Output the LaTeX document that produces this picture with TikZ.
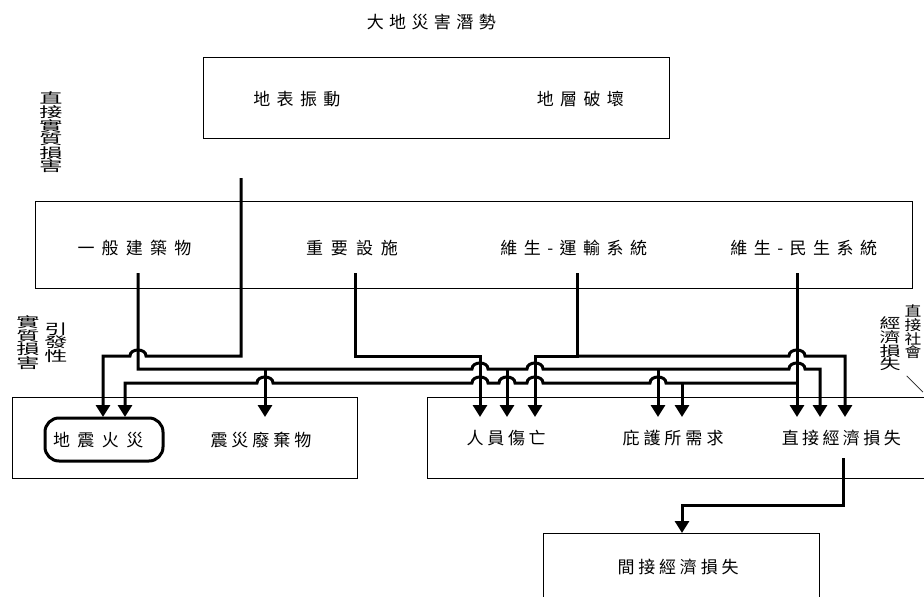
\documentclass[tikz,border=0pt]{standalone}
\usepackage{fontspec}
\newfontfamily\cjk{Noto Sans CJK TC}
\usetikzlibrary{arrows.meta}
\ExplSyntaxOn
\NewDocumentCommand\spaced{O{6pt}m}{\tl_map_inline:nn{#2}{##1\hspace{#1}}\hspace{-#1}}
\ExplSyntaxOff
\tikzset{
  lbl/.style={inner sep=0pt, font=\cjk\fontsize{17}{20}\selectfont},
  vlab/.style={inner sep=0pt, align=center, font=\cjk\fontsize{14}{13.6}\selectfont},
  box/.style={draw, line width=0.8pt, inner sep=0pt},
  bus/.style={line width=3pt},
  arr/.style={bus, -{Triangle[width=14pt,length=12pt]}},
  hr/.style args={#1/#2}{insert path={-- (#1-8,#2) .. controls (#1-8,#2-8) and (#1+8,#2-8) .. (#1+8,#2)}},
  hl/.style args={#1/#2}{insert path={-- (#1+8,#2) .. controls (#1+8,#2-8) and (#1-8,#2-8) .. (#1-8,#2)}},
}
\begin{document}
\begin{tikzpicture}[x=1pt,y=-1pt]
\useasboundingbox (0,0) rectangle (924,597);
\clip (0,0) rectangle (924,597);
% boxes
\node[box, minimum width=466, minimum height=81] (topbox) at (436,97.5) {};
\node[box, minimum width=877, minimum height=87] (midbox) at (473.5,244.5) {};
\node[box, minimum width=345, minimum height=81] (leftbox) at (184.5,437.5) {};
\node[box, minimum width=518, minimum height=81] (rightbox) at (686,437.5) {};
\node[box, minimum width=276, minimum height=80] (indbox) at (681,573) {};
\node[draw, line width=3pt, rounded corners=14pt, minimum width=118, minimum height=43, inner sep=0pt] (fire) at (104,439.5) {};
% texts
\node[lbl] (title) at (434,22.5) {\spaced[5.4pt]{大地災害潛勢}};
\node[lbl] (surf) at (300,99) {\spaced[6.3pt]{地表振動}};
\node[lbl] (fault) at (583.5,99) {\spaced[6.3pt]{地層破壞}};
\node[lbl] (bld) at (138,248) {\spaced[7.2pt]{一般建築物}};
\node[lbl] (fac) at (356,248) {\spaced[8pt]{重要設施}};
\node[lbl] (trans) at (577,248) {\spaced[6.5pt]{維生-運輸系統}};
\node[lbl] (util) at (807,248) {\spaced[6.5pt]{維生-民生系統}};
\node[lbl] (firetxt) at (102,440) {\spaced[7.5pt]{地震火災}};
\node[lbl] (debris) at (263,440) {\spaced[4pt]{震災廢棄物}};
\node[lbl] (cas) at (508,438) {\spaced[3.7pt]{人員傷亡}};
\node[lbl] (shel) at (675,438) {\spaced[4pt]{庇護所需求}};
\node[lbl] (dloss) at (843,438) {\spaced[3.4pt]{直接經濟損失}};
\node[lbl] (iloss) at (680,567) {\spaced[3.8pt]{間接經濟損失}};
% vertical labels
\node[vlab, xscale=1.65] (v1) at (51,132.5) {直\\接\\實\\質\\損\\害};
\node[vlab, xscale=1.65] (v2) at (28,342.5) {實\\質\\損\\害};
\node[vlab, xscale=1.65] (v3) at (56,342.5) {引\\發\\性};
\node[vlab, xscale=1.5] (v4) at (890,344) {經\\濟\\損\\失};
\node[vlab, xscale=1.2] (v5) at (913,332) {直\\接\\社\\會};
\node[inner sep=0pt, rotate=-90, font=\cjk\fontsize{18}{18}\selectfont] (slash) at (915,384) {／};
% connector endpoints
\coordinate (s0) at (241,178);
\coordinate (s1) at (138,273);
\coordinate (s2) at (355,273);
\coordinate (s3) at (577,273);
\coordinate (s4) at (797,273);
\coordinate (s5) at (843,458);
\coordinate (t1) at (103,417);
\coordinate (t2) at (125,417);
\coordinate (t3) at (265,417);
\coordinate (t4) at (480,417);
\coordinate (t5) at (507,417);
\coordinate (t6) at (535,417);
\coordinate (t7) at (658,417);
\coordinate (t8) at (682,417);
\coordinate (t9) at (797,417);
\coordinate (t10) at (820,417);
\coordinate (t11) at (845,417);
\coordinate (t12) at (682,533);
% connectors
\draw[arr] (s0) -- (241,356) [hl=138/356] -- (103,356) -- (t1);
\draw[arr] (s1) -- (138,369) [hr=480/369] [hr=535/369] [hr=797/369] -- (820,369) -- (t10);
\draw[arr] (265,369) -- (t3);
\draw[arr] (507,369) -- (t5);
\draw[arr] (658,369) -- (t7);
\draw[arr] (s2) -- (355,356) -- (480,356) -- (t4);
\draw[arr] (s3) -- (577,356) -- (535,356) -- (t6);
\draw[arr] (577,356) [hr=797/356] -- (845,356) -- (t11);
\draw[arr] (s4) -- (t9);
\draw[arr] (797,383) [hl=658/383] [hl=535/383] [hl=507/383] [hl=480/383] [hl=265/383] -- (125,383) -- (t2);
\draw[arr] (682,383) -- (t8);
\draw[arr] (s5) -- (843,505) -- (682,505) -- (t12);
\end{tikzpicture}
\end{document}
